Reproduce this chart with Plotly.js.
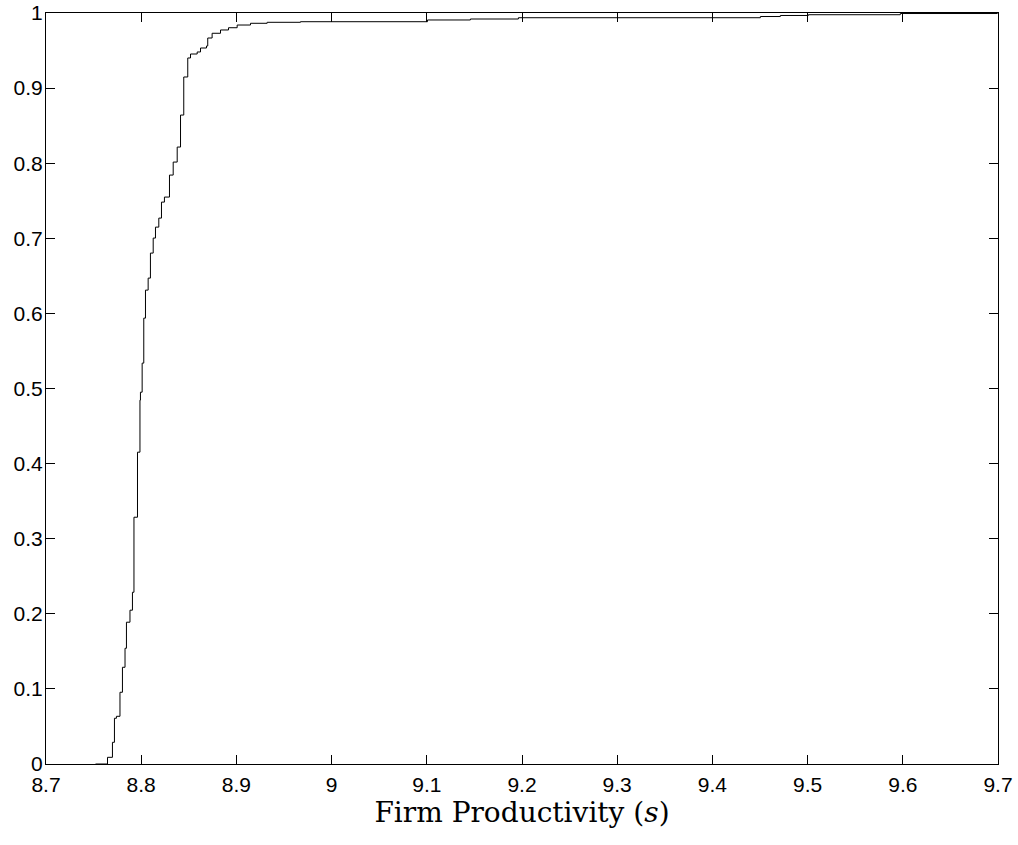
<!DOCTYPE html>
<html>
<head>
<meta charset="utf-8">
<script src="https://cdn.plot.ly/plotly-3.0.1.min.js"></script>
<style>html,body{margin:0;padding:0;background:#fff}#chart{width:1018px;height:845px}</style>
</head>
<body>
<div id="chart"></div>
<script>
const productivity = [8.7520, 8.7646, 8.7698, 8.7719, 8.7740, 8.7777, 8.7803, 8.7830, 8.7845, 8.7882,
  8.7908, 8.7924, 8.7961, 8.7987, 8.7992, 8.8010, 8.8027, 8.8045, 8.8073, 8.8097,
  8.8126, 8.8150, 8.8185, 8.8213, 8.8244, 8.8297, 8.8336, 8.8378, 8.8413, 8.8447,
  8.8489, 8.8518, 8.8588, 8.8623, 8.8686, 8.8699, 8.8745, 8.8833, 8.8917, 8.9008,
  8.9148, 8.9323, 8.9673, 9.1007, 9.1458, 9.1962, 9.4504, 9.4714, 9.5008, 9.5974, 9.6993];
const cdf = [0, 0.0089, 0.0289, 0.0609, 0.0635, 0.0955, 0.1288, 0.1541, 0.1888, 0.2048,
  0.2287, 0.3286, 0.4152, 0.4845, 0.4951, 0.5338, 0.5937, 0.6310, 0.6470, 0.6803,
  0.7003, 0.7149, 0.7269, 0.7482, 0.7549, 0.7842, 0.8015, 0.8215, 0.8641, 0.9148,
  0.9401, 0.9454, 0.9481, 0.9534, 0.9561, 0.9667, 0.9730, 0.9774, 0.9804, 0.9840,
  0.9863, 0.9876, 0.9884, 0.9907, 0.9920, 0.9937, 0.9953, 0.9967, 0.9977, 0.9993, 1.0];
const xTicks = [8.7, 8.8, 8.9, 9, 9.1, 9.2, 9.3, 9.4, 9.5, 9.6, 9.7];
const xTickText = ['8.7', '8.8', '8.9', '9', '9.1', '9.2', '9.3', '9.4', '9.5', '9.6', '9.7'];
const yTicks = [0, 0.1, 0.2, 0.3, 0.4, 0.5, 0.6, 0.7, 0.8, 0.9, 1];
const yTickText = ['0', '0.1', '0.2', '0.3', '0.4', '0.5', '0.6', '0.7', '0.8', '0.9', '1'];

const trace = {
  x: productivity, y: cdf, type: 'scatter', mode: 'lines',
  line: {color: '#000', width: 1, shape: 'hv'}, hoverinfo: 'skip'
};
const axisCommon = {
  showgrid: false, zeroline: false, showline: true, linecolor: '#000', linewidth: 1,
  mirror: 'allticks', ticks: 'inside', ticklen: 9, tickcolor: '#000', tickwidth: 1,
  tickfont: {family: 'Liberation Sans, Arial, sans-serif', size: 21, color: '#000'}
};
const layout = {
  width: 1018, height: 845,
  margin: {l: 45.5, r: 20.3, t: 13, b: 81.3},
  paper_bgcolor: '#fff', plot_bgcolor: '#fff', showlegend: false,
  xaxis: Object.assign({}, axisCommon, {
    range: [8.7, 9.7], tickmode: 'array', tickvals: xTicks, ticktext: xTickText,
    ticklabelstandoff: 2,
    title: {text: 'Firm Productivity (<i>s</i>)', standoff: 0,
      font: {family: 'DejaVu Serif, Liberation Serif, serif', size: 28, color: '#000'}}
  }),
  yaxis: Object.assign({}, axisCommon, {
    range: [0, 1], tickmode: 'array', tickvals: yTicks, ticktext: yTickText,
    ticklabelstandoff: -2
  })
};
Plotly.newPlot('chart', [trace], layout, {staticPlot: true, displayModeBar: false});
</script>
</body>
</html>
